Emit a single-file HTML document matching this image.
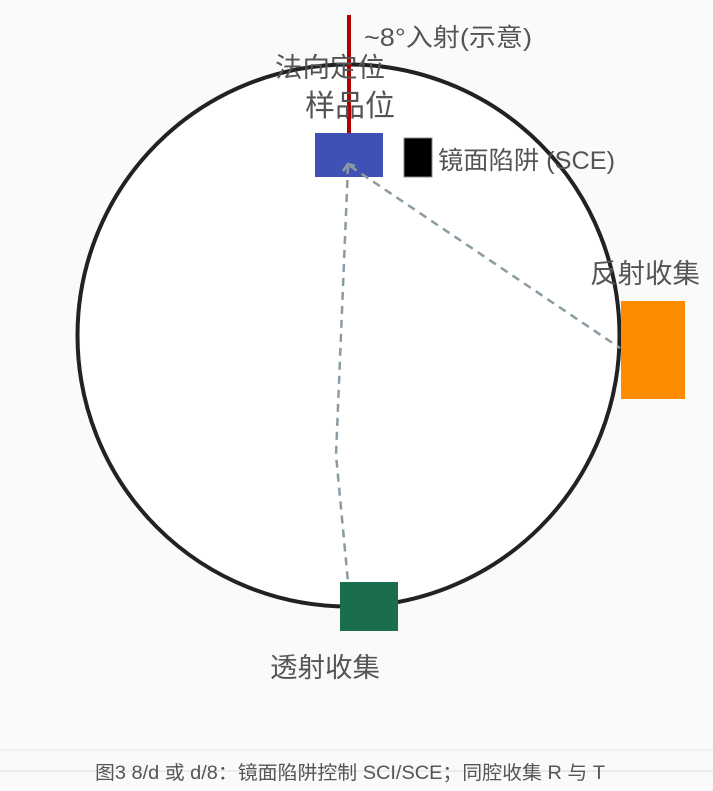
<!DOCTYPE html>
<html><head><meta charset="utf-8"><style>
html,body{margin:0;padding:0;background:#fafafa;}
svg{display:block;font-family:"Liberation Sans","Noto Sans CJK SC",sans-serif;}
</style></head><body>
<svg width="713" height="791" viewBox="0 0 713 791">
<rect width="713" height="791" fill="#fafafa"/>
<circle cx="348.5" cy="335.5" r="271" fill="#fff" stroke="#222" stroke-width="4"/>
<line x1="349" y1="15" x2="349" y2="133" stroke="#b00000" stroke-width="4"/>
<text x="364" y="46" font-size="25" fill="#555" textLength="168" lengthAdjust="spacingAndGlyphs">~8°入射(示意)</text>
<text x="275" y="77" font-size="27" fill="#555" textLength="110" lengthAdjust="spacingAndGlyphs">法向定位</text>
<text x="305" y="116" font-size="30" fill="#555" textLength="90" lengthAdjust="spacingAndGlyphs">样品位</text>
<rect x="315" y="133" width="68" height="44" fill="#3f51b5"/>
<rect x="404" y="138" width="28" height="39" fill="#000" stroke="#888" stroke-width="1"/>
<text x="438" y="169" font-size="25" fill="#555" textLength="177" lengthAdjust="spacingAndGlyphs">镜面陷阱 (SCE)</text>
<g stroke="#8a9ba3" stroke-width="2.5" fill="none" stroke-dasharray="8,6">
<line x1="350" y1="166" x2="620" y2="348"/>
<polyline points="348,166 336,455 348,582"/>
</g>
<polyline points="343,171 348,164 355,166" stroke="#8a9ba3" stroke-width="2.5" fill="none"/>
<text x="590" y="283" font-size="27" fill="#555" textLength="110" lengthAdjust="spacingAndGlyphs">反射收集</text>
<rect x="621" y="301" width="64" height="98" fill="#ff8c00"/>
<rect x="340" y="582" width="58" height="49" fill="#1b6e4c"/>
<text x="270" y="677" font-size="27" fill="#555" textLength="110" lengthAdjust="spacingAndGlyphs">透射收集</text>
<line x1="0" y1="750" x2="713" y2="750" stroke="#e6e6e6" stroke-width="1"/>
<line x1="0" y1="771" x2="713" y2="771" stroke="#dcdcdc" stroke-width="1"/>
<text x="95" y="779" font-size="19" fill="#555" textLength="510" lengthAdjust="spacingAndGlyphs">图3 8/d 或 d/8：镜面陷阱控制 SCI/SCE；同腔收集 R 与 T</text>
</svg>
</body></html>
